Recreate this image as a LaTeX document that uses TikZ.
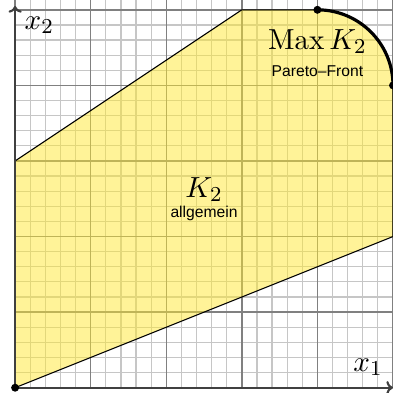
\documentclass[tikz,border=0pt]{standalone}
\usepackage{fontspec}
\newfontfamily\labelfont{Liberation Sans}
\usetikzlibrary{arrows.meta}
\definecolor{setfill}{RGB}{255,232,50}

\begin{document}
\begin{tikzpicture}[baseline=(current bounding box.center),
		mathlabel/.style={font=\fontsize{10.9}{13}\selectfont},
		textlabel/.style={font=\labelfont\fontsize{5.9}{7}\selectfont}]
				\useasboundingbox (-0.2,-0.064) rectangle (5.0,5.13);
				\draw[step=0.2, gray!45, line width=0.45pt] (0,0) grid (5.0,5.13);
				\draw[step=1, gray, line width=0.55pt] (0,0) grid (5.0,5.13);
				\node[shape=coordinate] (o) at (0,0) {};
				\node[shape=coordinate] (r) at (5,2) {};
				\node[shape=coordinate] (p) at (5,4) {};
				\node[shape=coordinate] (q) at (4,5) {};
				\node[shape=coordinate] (t) at (3,5) {};
				\node[shape=coordinate] (l) at (0,3) {};
				\node[shape=coordinate] (xe) at (5.0,0) {};
				\node[shape=coordinate] (ye) at (0,5.05) {};
				\fill[setfill, fill opacity=.5] (o) -- (r) -- (p) arc (0:90:1) -- (t) -- (l) -- cycle;
				\draw[thin] (o) -- (r) -- (p);
				\draw[thin] (q) -- (t) -- (l) -- (o);
				\draw[very thick] (p) arc (0:90:1);
				\begin{scope}[thick, black!75, -{To[length=2.5pt, width=5pt]}]
					\draw (o) -- (xe);
					\draw (o) -- (ye);
				\end{scope}
				\filldraw[] (o) circle (.045);
				\filldraw[] (p) circle (.045);
				\filldraw[] (q) circle (.045);
				\node[mathlabel] (x1) at (4.67,0.27) {$x_1$};
				\node[mathlabel] (x2) at (0.32,4.8) {$x_2$};
				\node[mathlabel] (max) at (4,4.58) {$\mathrm{Max}\,K_2$};
				\node[textlabel] (pf) at (4,4.19) {Pareto–Front};
				\node[mathlabel] (k2) at (2.5,2.62) {$K_2$};
				\node[textlabel] (ag) at (2.5,2.3) {allgemein};
			\end{tikzpicture}
\end{document}
